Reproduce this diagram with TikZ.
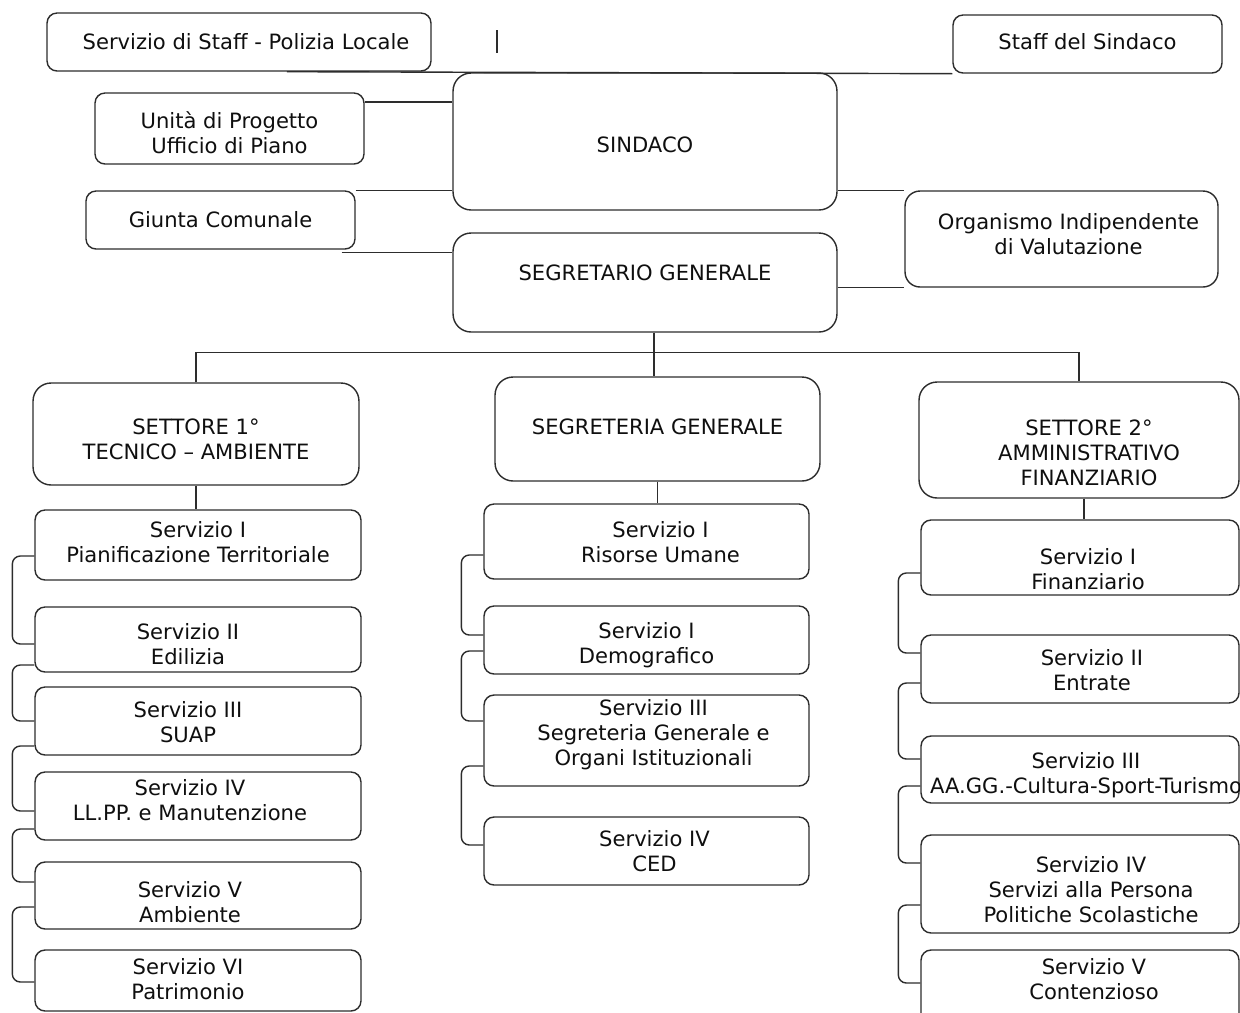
\documentclass[tikz,border=0pt]{standalone}
\usepackage{fontspec}
\setmainfont{DejaVu Sans}
\usetikzlibrary{calc}
\definecolor{ln}{RGB}{45,45,45}
\definecolor{tx}{RGB}{15,15,15}

\begin{document}
\begin{tikzpicture}[
    x=0.02cm, y=-0.02cm,
    font=\fontsize{12}{14.2}\selectfont,
    l/.style={
        line width=0.8pt,
        color=ln
    },
    br/.style={l, rounded corners=0.16cm},
    box/.style={
        draw=ln, line width=0.8pt, rounded corners=0.2cm, inner sep=0pt
    },
    big/.style={box, rounded corners=0.36cm},
    every label/.style={align=center, inner sep=0pt, text=tx}
]

    \useasboundingbox (0,0) rectangle (1240,1012);
    \fill[white] (0,0) rectangle (1240,1012);
    \clip (0,0) rectangle (1240,1012);

    % vertice
    \node [box, minimum width=7.68cm, minimum height=1.16cm, label={[xshift=0.14cm]center:Servizio di Staff - Polizia Locale}] (pol) at (239, 42) {};
    \node [box, minimum width=5.38cm, minimum height=1.16cm, label={[yshift=0.04cm]center:Staff del Sindaco}] (staff) at (1087.5, 44) {};
    \node [box, minimum width=5.38cm, minimum height=1.42cm, label={[yshift=-0.08cm]center:Unità di Progetto\\Ufficio di Piano}] (unita) at (229.5, 128.5) {};
    \node [big, minimum width=7.68cm, minimum height=2.74cm, label={[yshift=-0.07cm]center:SINDACO}] (sind) at (645, 141.5) {};
    \node [box, minimum width=5.38cm, minimum height=1.16cm, label={center:Giunta Comunale}] (giunta) at (220.5, 220) {};
    \node [box, rounded corners=0.3cm, minimum width=6.26cm, minimum height=1.92cm, label={[xshift=0.14cm, yshift=0.1cm]center:Organismo Indipendente\\di Valutazione}] (oiv) at (1061.5, 239) {};
    \node [big, minimum width=7.68cm, minimum height=1.98cm, label={[yshift=0.19cm]center:SEGRETARIO GENERALE}] (segr) at (645, 282.5) {};

    % settori
    \node [big, minimum width=6.52cm, minimum height=2.04cm, label={[yshift=-0.11cm]center:SETTORE 1°\\TECNICO – AMBIENTE}] (set1) at (196, 434) {};
    \node [big, minimum width=6.5cm, minimum height=2.08cm, label={[yshift=0.04cm]center:SEGRETERIA GENERALE}] (segG) at (657.5, 429) {};
    \node [big, minimum width=6.4cm, minimum height=2.32cm, label={[xshift=0.2cm, yshift=-0.26cm]center:SETTORE 2°\\AMMINISTRATIVO\\FINANZIARIO}] (set2) at (1079, 440) {};

    % servizi settore 1
    \node [box, minimum width=6.52cm, minimum height=1.4cm, label={[yshift=0.05cm]center:Servizio I\\Pianificazione Territoriale}] (l1) at (198, 545) {};
    \node [box, minimum width=6.52cm, minimum height=1.3cm, label={[xshift=-0.2cm, yshift=-0.1cm]center:Servizio II\\Edilizia}] (l2) at (198, 639.5) {};
    \node [box, minimum width=6.52cm, minimum height=1.36cm, label={[xshift=-0.2cm, yshift=-0.03cm]center:Servizio III\\SUAP}] (l3) at (198, 721) {};
    \node [box, minimum width=6.52cm, minimum height=1.36cm, label={[xshift=-0.16cm, yshift=0.12cm]center:Servizio IV\\LL.PP. e Manutenzione}] (l4) at (198, 806) {};
    \node [box, minimum width=6.52cm, minimum height=1.34cm, label={[xshift=-0.16cm, yshift=-0.14cm]center:Servizio V\\Ambiente}] (l5) at (198, 895.5) {};
    \node [box, minimum width=6.52cm, minimum height=1.22cm, label={[xshift=-0.2cm, yshift=0.03cm]center:Servizio VI\\Patrimonio}] (l6) at (198, 980.5) {};

    % servizi segreteria generale
    \node [box, minimum width=6.5cm, minimum height=1.5cm, label={[xshift=0.28cm, yshift=-0.02cm]center:Servizio I\\Risorse Umane}] (m1) at (646.5, 541.5) {};
    \node [box, minimum width=6.5cm, minimum height=1.36cm, label={[yshift=-0.1cm]center:Servizio I\\Demografico}] (m2) at (646.5, 640) {};
    \node [box, minimum width=6.5cm, minimum height=1.82cm, label={[xshift=0.14cm, yshift=0.11cm]center:Servizio III\\Segreteria Generale e\\Organi Istituzionali}] (m3) at (646.5, 740.5) {};
    \node [box, minimum width=6.5cm, minimum height=1.36cm, label={[xshift=0.16cm]center:Servizio IV\\CED}] (m4) at (646.5, 851) {};

    % servizi settore 2
    \node [box, minimum width=6.36cm, minimum height=1.5cm, label={[xshift=0.16cm, yshift=-0.24cm]center:Servizio I\\Finanziario}] (r1) at (1080, 557.5) {};
    \node [box, minimum width=6.36cm, minimum height=1.36cm, label={[xshift=0.24cm, yshift=-0.03cm]center:Servizio II\\Entrate}] (r2) at (1080, 669) {};
    \node [box, minimum width=6.36cm, minimum height=1.34cm, label={[xshift=0.12cm, yshift=-0.12cm]center:Servizio III\\AA.GG.-Cultura-Sport-Turismo}] (r3) at (1080, 769.5) {};
    \node [box, minimum width=6.36cm, minimum height=1.96cm, label={[xshift=0.22cm, yshift=-0.12cm]center:Servizio IV\\Servizi alla Persona\\Politiche Scolastiche}] (r4) at (1080, 884) {};
    \node [box, minimum width=6.36cm, minimum height=1.6cm, label={[xshift=0.28cm, yshift=0.21cm]center:Servizio V\\Contenzioso}] (r5) at (1080, 990) {};

    % collegamenti in alto
    \draw [l] ([xshift=0.96cm]pol.south) -- (staff.south west);
    \draw [l] (497, 30) -- (497, 53);
    \draw [l] ([yshift=0.53cm]unita.east) -- ([yshift=0.53cm]unita.east -| sind.west);
    \draw [l] (giunta.north east) -- (giunta.north east -| sind.west);
    \draw [l] ([xshift=-0.28cm, yshift=-0.06cm]giunta.south east) -- ([yshift=-0.06cm]giunta.south east -| segr.west);
    \draw [l] (oiv.north west -| sind.east) -- (oiv.north west);
    \draw [l] (oiv.south west -| segr.east) -- (oiv.south west);

    % albero
    \draw [l] ([xshift=0.18cm]segr.south) -- ++(0, 20) coordinate (bus);
    \draw [l] (set1.north) |- (bus) -| (set2.north);
    \draw [l] (bus) -- (bus |- segG.north);
    \draw [l] (set1.south) -- (set1.south |- l1.north);
    \draw [l] (segG.south) -- (segG.south |- m1.north);
    \draw [l] ([xshift=0.1cm]set2.south) -- ([xshift=0.1cm]set2.south |- r1.north);

    % parentesi a sinistra
    \draw [br] ([yshift=-0.22cm]l1.west) -- ++(-22, 0) |- ([yshift=-0.09cm]l2.west);
    \draw [br] ([yshift=-0.51cm]l2.west) -- ++(-22, 0) |- (l3.west);
    \draw [br] ([yshift=-0.5cm]l3.west) -- ++(-22, 0) |- ([yshift=-0.1cm]l4.west);
    \draw [br] ([yshift=-0.46cm]l4.west) -- ++(-22, 0) |- ([yshift=0.27cm]l5.west);
    \draw [br] ([yshift=-0.23cm]l5.west) -- ++(-22, 0) |- ([yshift=-0.03cm]l6.west);

    \draw [br] ([yshift=-0.27cm]m1.west) -- ++(-22, 0) |- ([yshift=0.1cm]m2.west);
    \draw [br] ([yshift=-0.22cm]m2.west) -- ++(-22, 0) |- ([yshift=0.39cm]m3.west);
    \draw [br] ([yshift=-0.51cm]m3.west) -- ++(-22, 0) |- ([yshift=0.12cm]m4.west);

    \draw [br] ([yshift=-0.31cm]r1.west) -- ++(-22, 0) |- ([yshift=0.32cm]r2.west);
    \draw [br] ([yshift=-0.28cm]r2.west) -- ++(-22, 0) |- ([yshift=0.21cm]r3.west);
    \draw [br] ([yshift=-0.33cm]r3.west) -- ++(-22, 0) |- ([yshift=0.42cm]r4.west);
    \draw [br] ([yshift=-0.42cm]r4.west) -- ++(-22, 0) |- ([yshift=0.14cm]r5.west);

\end{tikzpicture}
\end{document}
